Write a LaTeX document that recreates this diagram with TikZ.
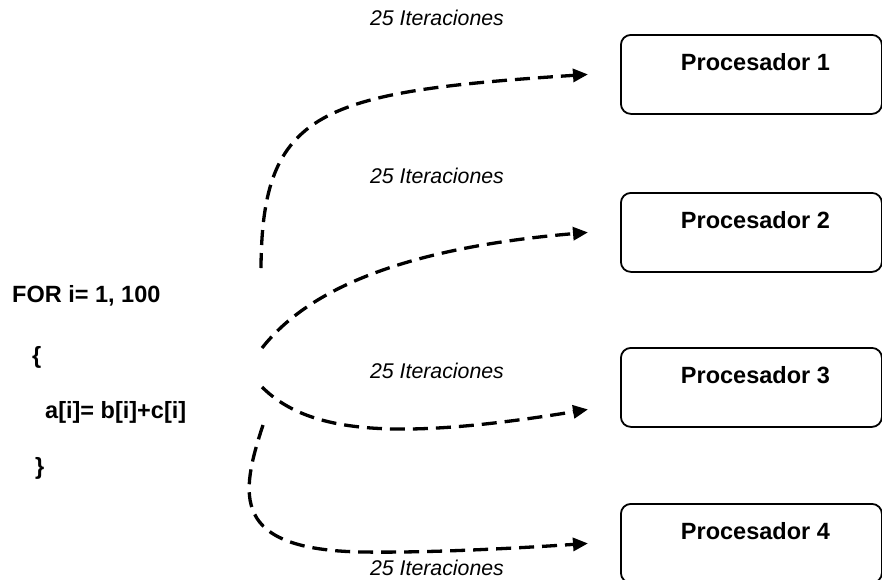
\documentclass[tikz,border=0pt]{standalone}
\usepackage{fontspec}
\setmainfont{Liberation Sans}
\usetikzlibrary{arrows.meta}
\begin{document}
\begin{tikzpicture}[x=1pt,y=-1pt,
  procbox/.style={draw, line width=1.8pt, rounded corners=10pt,
    minimum width=261pt, minimum height=79pt, anchor=north west, inner sep=0pt},
  proclabel/.style={anchor=base, font=\fontsize{23.5}{28}\selectfont\bfseries, inner sep=0pt},
  code/.style={anchor=base west, font=\fontsize{23.5}{28}\selectfont\bfseries, inner sep=0pt},
  iters/.style={anchor=base, font=\fontsize{21.3}{26}\selectfont\itshape, inner sep=0pt},
  flow/.style={line width=3.3pt, dash pattern=on 15pt off 8pt,
    -{Triangle[length=15pt,width=13pt]}}
]
\useasboundingbox (0,0) rectangle (882,579);

% loop body
\node[code] (c1) at (12,302) {FOR i= 1, 100};
\node[code] (c2) at (32,363) {\{};
\node[code] (c3) at (45,418) {a[i]= b[i]+c[i]};
\node[code] (c4) at (35,474) {\}};

% processors
\node[procbox] (p1) at (620,34) {};
\node[procbox] (p2) at (620,192) {};
\node[procbox] (p3) at (620,347) {};
\node[procbox] (p4) at (620,503) {};
\node[proclabel] (p1t) at ([xshift=4pt,yshift=-36pt]p1.north) {Procesador 1};
\node[proclabel] (p2t) at ([xshift=4pt,yshift=-36pt]p2.north) {Procesador 2};
\node[proclabel] (p3t) at ([xshift=4pt,yshift=-36pt]p3.north) {Procesador 3};
\node[proclabel] (p4t) at ([xshift=4pt,yshift=-36pt]p4.north) {Procesador 4};

% iteration labels
\node[iters] (l1) at (437,25) {25 Iteraciones};
\node[iters] (l2) at (437,183) {25 Iteraciones};
\node[iters] (l3) at (437,378) {25 Iteraciones};
\node[iters] (l4) at (437,575) {25 Iteraciones};

% start and end points of the distribution arrows
\coordinate (s1) at (261,268);
\coordinate (s2) at (262,348);
\coordinate (s3) at (262,387);
\coordinate (s4) at (263,425);
\coordinate (t1) at ([xshift=-32pt]p1.west);
\coordinate (t2) at ([xshift=-32pt]p2.west);
\coordinate (t3) at ([xshift=-32pt,yshift=-22pt]p3.west);
\coordinate (t4) at ([xshift=-32pt]p4.west);

\draw[flow] (s1) .. controls (262,110) and (320,92) .. (t1);
\draw[flow] (s2) .. controls (300,300) and (380,250) .. (t2);
\draw[flow] (s3) .. controls (310,435) and (400,440) .. (t3);
\draw[flow] (s4) .. controls (240,495) and (230,550) .. (363,552)
                 .. controls (430,553) and (520,548) .. (t4);
\end{tikzpicture}
\end{document}
